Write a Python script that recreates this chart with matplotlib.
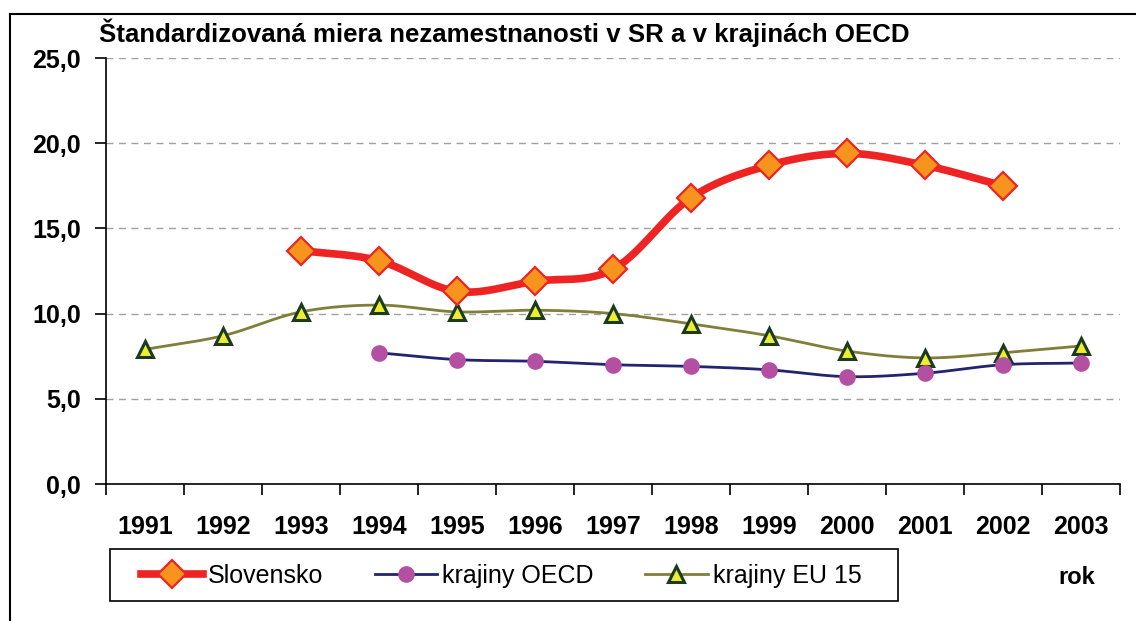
import numpy as np
import matplotlib.pyplot as plt
from matplotlib.lines import Line2D
from matplotlib.patches import Rectangle

plt.rcParams['font.family'] = ['Liberation Sans', 'DejaVu Sans']

roky = ['1991', '1992', '1993', '1994', '1995', '1996', '1997',
        '1998', '1999', '2000', '2001', '2002', '2003']

# miera nezamestnanosti v % (None = chyba udaj)
slovensko = [None, None, 13.7, 13.1, 11.3, 11.9, 12.6, 16.8, 18.7, 19.4, 18.7, 17.5, None]
oecd = [None, None, None, 7.7, 7.3, 7.2, 7.0, 6.9, 6.7, 6.3, 6.5, 7.0, 7.1]
eu15 = [7.9, 8.7, 10.1, 10.5, 10.1, 10.2, 10.0, 9.4, 8.7, 7.8, 7.4, 7.7, 8.1]

y_ticky = [0, 5, 10, 15, 20, 25]


def data_xy(hodnoty):
    x = np.array([i for i, v in enumerate(hodnoty) if v is not None], dtype=float)
    y = np.array([v for v in hodnoty if v is not None], dtype=float)
    return x, y


def vyhladit(x, y, n=30):
    # Catmull-Rom ako "vyhladena ciara" v Exceli
    px = np.concatenate([[2 * x[0] - x[1]], x, [2 * x[-1] - x[-2]]])
    py = np.concatenate([[2 * y[0] - y[1]], y, [2 * y[-1] - y[-2]]])
    xs, ys = [], []
    t = np.linspace(0, 1, n)
    for i in range(1, len(px) - 2):
        for arr, out in ((px, xs), (py, ys)):
            p0, p1, p2, p3 = arr[i - 1], arr[i], arr[i + 1], arr[i + 2]
            seg = 0.5 * ((2 * p1) + (-p0 + p2) * t + (2 * p0 - 5 * p1 + 4 * p2 - p3) * t ** 2
                         + (-p0 + 3 * p1 - 3 * p2 + p3) * t ** 3)
            out.extend(seg)
    return np.array(xs), np.array(ys)


fig = plt.figure(figsize=(11.36, 6.21), dpi=100)
ax = fig.add_axes([106 / 1136, 1 - 484 / 621, (1120 - 106) / 1136, (484 - 58) / 621])

serie = [
    (eu15, 'krajiny EU 15', dict(color='#7f7f3a', lw=2.0),
     dict(marker='^', ms=12, mfc='#eeee30', mec='#1c3a1c', mew=2.2)),
    (oecd, 'krajiny OECD', dict(color='#232370', lw=2.0),
     dict(marker='o', ms=12, mfc='#b350a2', mec='#b350a2', mew=0)),
    (slovensko, 'Slovensko', dict(color='#ee2424', lw=5.5),
     dict(marker='D', ms=14, mfc='#f7941d', mec='#ee2424', mew=1.6)),
]

for hodnoty, nazov, ciara, znacka in serie:
    x, y = data_xy(hodnoty)
    sx, sy = vyhladit(x, y)
    ax.plot(sx, sy, solid_capstyle='round', zorder=3, **ciara)
    ax.plot(x, y, ls='none', zorder=4, **znacka)

ax.set_xlim(-0.5, len(roky) - 0.5)
ax.set_ylim(0, 25)
ax.set_yticks(y_ticky)
ax.set_yticklabels([f'{v:.1f}'.replace('.', ',') for v in y_ticky],
                   fontsize=18, fontweight='bold')
ax.yaxis.grid(True, ls=(0, (5, 4)), color='#a0a0a0', lw=1.0)
ax.set_axisbelow(True)

ax.set_xticks(np.arange(-0.5, len(roky), 1.0))
ax.set_xticklabels([])
ax.set_xticks(np.arange(len(roky)), minor=True)
ax.set_xticklabels(roky, minor=True, fontsize=18, fontweight='bold')
ax.tick_params(axis='x', which='major', length=8, width=1.2, direction='out')
ax.tick_params(axis='x', which='minor', length=0, pad=22)
ax.tick_params(axis='y', length=8, width=1.2, direction='out', pad=10)

for s in ['top', 'right']:
    ax.spines[s].set_visible(False)
for s in ['left', 'bottom']:
    ax.spines[s].set_linewidth(1.2)

fig.text(99 / 1136, 1 - 33 / 621, 'Štandardizovaná miera nezamestnanosti v SR a v krajinách OECD',
         fontsize=18.6, fontweight='bold', va='center', ha='left')
fig.text(1077 / 1136, 1 - 578 / 621, 'rok', fontsize=17, fontweight='bold',
         va='center', ha='center')

handles = []
for hodnoty, nazov, ciara, znacka in reversed(serie):
    handles.append(Line2D([], [], label=nazov, **ciara, **znacka))
fig.legend(handles=handles, loc='center',
           bbox_to_anchor=(501 / 1136, 1 - 576 / 621),
           ncol=3, fontsize=18, frameon=False,
           handlelength=2.5, handletextpad=0.2, borderpad=0.45,
           columnspacing=2.05, borderaxespad=0)
# ramik legendy
fig.add_artist(Rectangle((110 / 1136, 1 - 601 / 621), (898 - 110) / 1136, 52 / 621,
                         transform=fig.transFigure, fill=False, edgecolor='black', lw=1.2))

# okraj vyrezu
fig.add_artist(Line2D([10 / 1136, 1.0], [1 - 14 / 621, 1 - 14 / 621], color='black', lw=1.5))
fig.add_artist(Line2D([10 / 1136, 10 / 1136], [0, 1 - 14 / 621], color='black', lw=1.5))

fig.savefig('out.png', dpi=100)
